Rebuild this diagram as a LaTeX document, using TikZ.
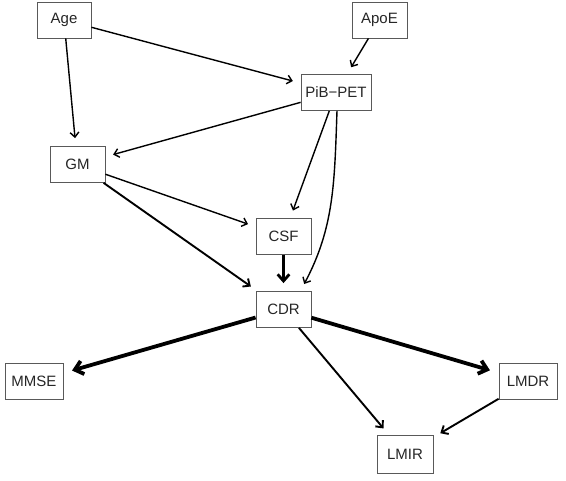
\documentclass[tikz,border=0pt]{standalone}
\usepackage{fontspec}
\setmainfont{Liberation Sans}
\usetikzlibrary{arrows.meta}

\begin{document}
\begin{tikzpicture}[x=1pt, y=1pt, >={Straight Barb[length=3pt 1.3,width=6pt 2]},
		var/.style={draw=black!65, line width=0.8pt, fill=white, minimum height=36pt, inner sep=0pt, text=black!85, font=\fontsize{15}{18}\selectfont},
		thinarr/.style={->, line width=1.4pt, shorten >=8pt},
		midarr/.style={->, line width=1.9pt, shorten >=8pt},
		boldarr/.style={->, line width=2.8pt, shorten >=8pt},
		heavyarr/.style={->, line width=3.8pt, shorten >=9pt}]
		\useasboundingbox (0,0) rectangle (566,481);
		\node[var, minimum width=54pt] (age) at (64,461) {Age};
		\node[var, minimum width=55pt] (apoe) at (379.5,461) {ApoE};
		\node[var, minimum width=70pt] (pib) at (336,388.5) {PiB−PET};
		\node[var, minimum width=55pt] (gm) at (77.5,316.5) {GM};
		\node[var, minimum width=55pt] (csf) at (283.5,244.5) {CSF};
		\node[var, minimum width=55pt] (cdr) at (283.5,171.5) {CDR};
		\node[var, minimum width=58pt] (mmse) at (34,99.5) {MMSE};
		\node[var, minimum width=58pt] (lmdr) at (528,99.5) {LMDR};
		\node[var, minimum width=56pt, minimum height=38pt] (lmir) at (405,27) {LMIR};
		\draw[thinarr] (age) -- (pib);
		\draw[thinarr] (age) -- (gm);
		\draw[thinarr] (apoe) -- (pib);
		\draw[thinarr] (pib) -- (gm);
		\draw[thinarr] (pib) -- (csf);
		\draw[thinarr] ([xshift=1pt]pib.south) to[out=-92, in=62] ([xshift=-11pt]cdr.north east);
		\draw[thinarr] (gm) -- (csf);
		\draw[midarr] (gm) -- (cdr);
		\draw[boldarr] (csf) -- (cdr);
		\draw[heavyarr] (cdr) -- (mmse);
		\draw[heavyarr] (cdr) -- (lmdr);
		\draw[midarr] (cdr) -- (lmir);
		\draw[midarr] (lmdr) -- (lmir);
\end{tikzpicture}
\end{document}
